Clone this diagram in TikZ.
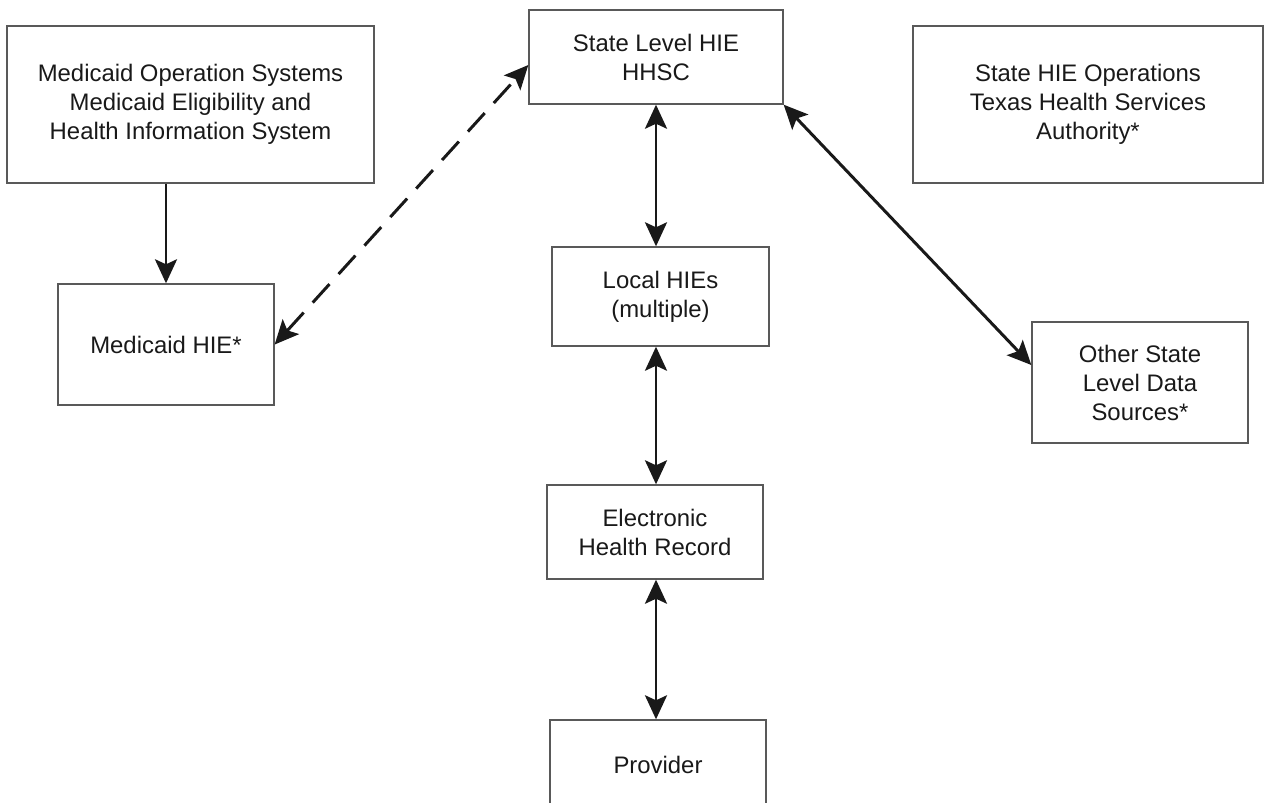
\documentclass[tikz,border=0pt]{standalone}
\usepackage{fontspec}
\setmainfont{Liberation Sans}
\usetikzlibrary{arrows.meta}

\begin{document}
\begin{tikzpicture}[x=0.02cm,y=-0.02cm,
    font=\fontsize{13.6}{16.5}\selectfont,
    box/.style={draw=black!65,line width=0.8pt,align=center,text=black!90,inner sep=2pt},
    tip/.style={Stealth[length=0.48cm,width=0.44cm,inset=0.1cm]},
    link/.style={line width=1.7pt,draw=black!90,-{Stealth[length=0.48cm,width=0.44cm,inset=0.1cm]}},
    both/.style={link,{Stealth[length=0.48cm,width=0.44cm,inset=0.1cm]}-{Stealth[length=0.48cm,width=0.44cm,inset=0.1cm]}}]
    \useasboundingbox (0,0) rectangle (1272,802);
    \clip (0,0) rectangle (1272,802);

    \node[box,minimum width=7.34cm,minimum height=3.14cm] (ops) at (190.5,104.5)
        {Medicaid Operation Systems\\Medicaid Eligibility and\\Health Information System};
    \node[box,minimum width=5.08cm,minimum height=1.88cm] (state) at (656,57)
        {State Level HIE\\HHSC};
    \node[box,minimum width=7cm,minimum height=3.14cm] (thsa) at (1088,104.5)
        {State HIE Operations\\Texas Health Services\\Authority*};
    \node[box,minimum width=4.32cm,minimum height=2.42cm] (mhie) at (166,344.5)
        {Medicaid HIE*};
    \node[box,minimum width=4.34cm,minimum height=1.98cm] (local) at (660.5,296.5)
        {Local HIEs\\(multiple)};
    \node[box,minimum width=4.32cm,minimum height=2.42cm] (other) at (1140,382.5)
        {Other State\\Level Data\\Sources*};
    \node[box,minimum width=4.32cm,minimum height=1.88cm] (ehr) at (655,532)
        {Electronic\\Health Record};
    \node[box,minimum width=4.32cm,minimum height=1.8cm] (prov) at (658,765)
        {Provider};

    \draw[link] (mhie.north |- ops.south) -- (mhie.north);
    \draw[both,dash pattern=on 0.5cm off 0.27cm] (mhie.east) -- ([yshift=-0.16cm]state.west);
    \draw[both] (state.south) -- (state.south |- local.north);
    \draw[both] (state.south |- local.south) -- (state.south |- ehr.north);
    \draw[both] (state.south |- ehr.south) -- (state.south |- prov.north);
    \draw[both] (state.south east) -- ([yshift=0.35cm]other.west);
\end{tikzpicture}
\end{document}
